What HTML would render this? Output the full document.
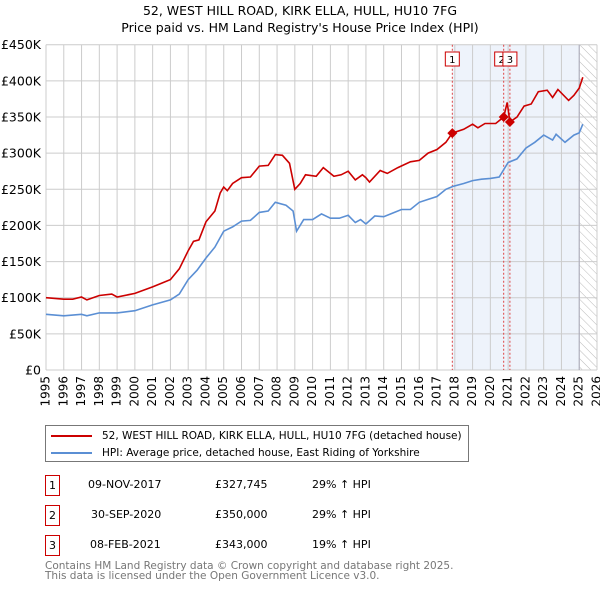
<!DOCTYPE html>
<html><head><meta charset="utf-8"><style>
body{margin:0;background:#fff;font-family:"Liberation Sans","DejaVu Sans",sans-serif;}
svg text{font-family:"DejaVu Sans","Liberation Sans",sans-serif;}
.t span{white-space:nowrap}
</style></head><body>
<svg id="c" width="600" height="590" viewBox="0 0 600 590"></svg>
<script>
const redX=[1995,1996,1996.5,1997,1997.3,1998,1998.7,1999,2000,2001,2001.5,2002,2002.5,2003,2003.3,2003.6,2004,2004.5,2004.8,2005,2005.2,2005.5,2006,2006.5,2007,2007.5,2007.9,2008.3,2008.7,2009,2009.3,2009.6,2010.2,2010.6,2011.2,2011.6,2012,2012.4,2012.8,2013,2013.2,2013.8,2014.2,2014.8,2015.5,2016,2016.5,2017,2017.5,2017.86,2018.5,2019,2019.3,2019.7,2020.3,2020.75,2020.95,2021.1,2021.5,2021.9,2022.3,2022.7,2023.2,2023.5,2023.8,2024.4,2024.7,2025.0,2025.2];
const redV=[100,98,98,101,97,103,105,101,106,115,120,125,140,165,178,180,205,220,245,253,248,258,266,267,282,283,298,297,286,250,258,270,268,280,268,270,275,263,270,266,260,276,272,280,288,290,300,305,315,327.7,333,340,335,341,341,350,370,343,350,365,368,385,387,377,388,373,380,390,405];
const hpiX=[1995,1996,1996.5,1997,1997.3,1998,1999,2000,2001,2002,2002.5,2003,2003.5,2004,2004.5,2005,2005.5,2006,2006.5,2007,2007.5,2007.9,2008.5,2008.9,2009.1,2009.5,2010,2010.5,2011,2011.5,2012,2012.4,2012.7,2013,2013.5,2014,2014.5,2015,2015.5,2016,2016.5,2017,2017.5,2017.9,2018.5,2019,2019.5,2020,2020.5,2021,2021.5,2022,2022.5,2023,2023.5,2023.7,2024.2,2024.7,2025.0,2025.2];
const hpiV=[77,75,76,77,75,79,79,82,90,97,105,125,138,155,170,192,198,206,207,218,220,232,228,220,192,208,208,216,210,210,214,204,208,202,213,212,217,222,222,232,236,240,250,254,258,262,264,265,267,287,292,307,315,325,318,326,315,325,328,340];
const saleX=[2017.86,2020.75,2021.1];
const saleV=[327.745,350,343];
const saleLabels=["1","2","3"];
const yTicks=[0,50,100,150,200,250,300,350,400,450];
const years=[];for(let y=1995;y<=2026;y++)years.push(y);

const NS="http://www.w3.org/2000/svg",svg=document.getElementById('c');
const L=46,R=597,T=44.7,B=370;
const xs=y=>L+(y-1995)*(R-L)/31, ys=v=>B-v*(B-T)/450;
function mk(t,a,p){const e=document.createElementNS(NS,t);for(const k in a)e.setAttribute(k,a[k]);(p||svg).appendChild(e);return e;}

const t1=mk('text',{x:300,y:15,'text-anchor':'middle','font-size':12.5,fill:'#000'});t1.textContent="52, WEST HILL ROAD, KIRK ELLA, HULL, HU10 7FG";

const t2=mk('text',{x:300,y:32,'text-anchor':'middle','font-size':12.5,fill:'#000'});t2.textContent="Price paid vs. HM Land Registry's House Price Index (HPI)";


const defs=mk('defs',{});const pat=mk('pattern',{id:'h',width:6,height:6,patternUnits:'userSpaceOnUse',patternTransform:'rotate(-45)'},defs);
mk('line',{x1:0,y1:0,x2:0,y2:6,stroke:'#bbb','stroke-width':1},pat);
const sh=mk('rect',{x:xs(saleX[0]),y:T,width:xs(2025)-xs(saleX[0]),height:B-T,fill:'#eef3fb'});

const ht=mk('rect',{x:xs(2025),y:T,width:R-xs(2025),height:B-T,fill:'url(#h)'});


years.forEach(y=>{mk('line',{x1:xs(y),y1:T,x2:xs(y),y2:B,stroke:'#ccc','stroke-width':1});
 const tx=mk('text',{x:xs(y),y:B+6,'font-size':12,fill:'#000','text-anchor':'end','dominant-baseline':'middle',transform:`rotate(-90 ${xs(y)} ${B+6})`});tx.textContent=y;
 });
yTicks.forEach(v=>{mk('line',{x1:L,y1:ys(v),x2:R,y2:ys(v),stroke:'#ccc','stroke-width':1});
 const tx=mk('text',{x:L-5,y:ys(v)+4.5,'font-size':12.5,fill:'#000','text-anchor':'end'});tx.textContent=v===0?'£0':'£'+v+'K';
 });
mk('line',{x1:xs(2025),y1:T,x2:xs(2025),y2:B,stroke:'#aab','stroke-width':1});

saleX.forEach((s,i)=>{const ln=mk('line',{x1:xs(s),y1:T,x2:xs(s),y2:B,stroke:'#d44','stroke-width':1,'stroke-dasharray':'2,2'});
 });

function path(X,V,col,name){const d=X.map((x,i)=>(i?'L':'M')+xs(x).toFixed(1)+','+ys(V[i]).toFixed(1)).join('');
 const p=mk('path',{d:d,fill:'none',stroke:col,'stroke-width':1.6});}
path(hpiX,hpiV,'#5b8fd4','hpi-line');
path(redX,redV,'#cc0000','price-paid-line');
saleX.forEach((s,i)=>{const cx=xs(s),cy=ys(saleV[i]);
 const d=mk('polygon',{points:`${cx},${cy-5} ${cx+5},${cy} ${cx},${cy+5} ${cx-5},${cy}`,fill:'#cc0000'});
 
 const g=mk('g',{});
 mk('rect',{x:i==1?cx-9:cx-7,y:52,width:14,height:14,fill:'#fff',stroke:'#cc0000'},g);
 const tt=mk('text',{x:i==1?cx-2:cx,y:63,'font-size':10,'text-anchor':'middle',fill:'#000'},g);tt.textContent=saleLabels[i];});
</script>

<div style="position:absolute;left:45px;top:425px;width:422px;height:35px;border:1px solid #777;font-size:10.5px;font-family:'DejaVu Sans','Liberation Sans',sans-serif;">
 <div style="position:absolute;left:5px;top:4px;white-space:nowrap;"><span style="display:inline-block;width:41px;height:2px;background:#cc0000;vertical-align:middle;margin-right:10px"></span>52, WEST HILL ROAD, KIRK ELLA, HULL, HU10 7FG (detached house)</div>
 <div style="position:absolute;left:5px;top:21px;white-space:nowrap;"><span style="display:inline-block;width:41px;height:2px;background:#5b8fd4;vertical-align:middle;margin-right:10px"></span>HPI: Average price, detached house, East Riding of Yorkshire</div>
</div>
<div class="t" style="position:absolute;left:0;top:0;font-size:11px;font-family:'DejaVu Sans','Liberation Sans',sans-serif;">
 <div>
  <span style="position:absolute;left:45px;top:475px;width:13px;height:19px;border:1px solid #cc0000;text-align:center;line-height:19px">1</span>
  <span style="position:absolute;left:88px;top:478px">09-NOV-2017</span><span style="position:absolute;left:215px;top:478px">£327,745</span><span style="position:absolute;left:312px;top:478px">29% ↑ HPI</span></div>
 <div>
  <span style="position:absolute;left:45px;top:505px;width:13px;height:19px;border:1px solid #cc0000;text-align:center;line-height:19px">2</span>
  <span style="position:absolute;left:91px;top:508px">30-SEP-2020</span><span style="position:absolute;left:215px;top:508px">£350,000</span><span style="position:absolute;left:312px;top:508px">29% ↑ HPI</span></div>
 <div>
  <span style="position:absolute;left:45px;top:535px;width:13px;height:19px;border:1px solid #cc0000;text-align:center;line-height:19px">3</span>
  <span style="position:absolute;left:90px;top:538px">08-FEB-2021</span><span style="position:absolute;left:215px;top:538px">£343,000</span><span style="position:absolute;left:312px;top:538px">19% ↑ HPI</span></div>
</div>
<div style="position:absolute;left:45px;top:561px;font-size:10.5px;line-height:10px;color:#777;font-family:'DejaVu Sans','Liberation Sans',sans-serif;white-space:nowrap">Contains HM Land Registry data © Crown copyright and database right 2025.<br>This data is licensed under the Open Government Licence v3.0.</div>
</body></html>
